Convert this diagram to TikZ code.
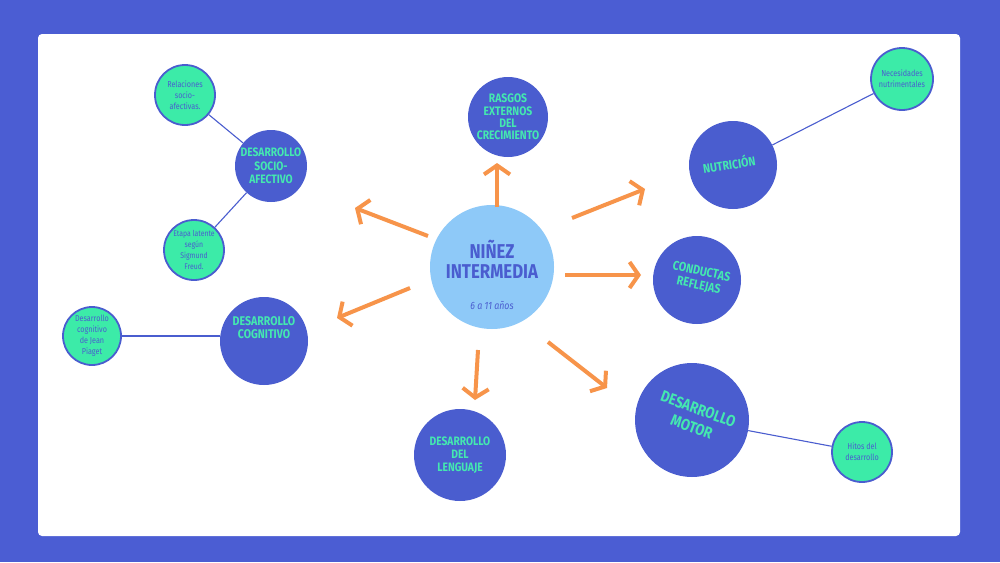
\documentclass[tikz,border=0pt]{standalone}
\usepackage{fontspec}
\setmainfont{Fira Sans}[FakeStretch=0.84]
\usetikzlibrary{arrows.meta}
\definecolor{bg}{HTML}{4B5DD3}
\definecolor{cblue}{HTML}{4A5DCF}
\definecolor{lblue}{HTML}{8EC9F8}
\definecolor{mint}{HTML}{3CEBA8}
\definecolor{ttxt}{HTML}{44E8B0}
\definecolor{orng}{HTML}{F7944A}
\begin{document}
\begin{tikzpicture}[x=1pt,y=-1pt,
  topic/.style={circle,fill=cblue,inner sep=0pt,align=center,text=ttxt,font=\bfseries\fontsize{12.5}{13.5}\selectfont},
  sub/.style={circle,fill=mint,draw=cblue,line width=1.8pt,inner sep=0pt,minimum size=60pt,align=center,text=cblue,font=\fontsize{8.6}{11}\selectfont},
  link/.style={draw=cblue,line width=1.1pt},
  arr/.style={draw=orng,line width=4pt,-{Straight Barb[length=9pt,width=26pt,line width=4pt]}}]
\fill[bg] (0,0) rectangle (1000,562);
\fill[white,rounded corners=4pt] (38,34) rectangle (960,536);
% centre
\node[circle,fill=lblue,minimum size=124pt,inner sep=0pt] (c) at (492,267) {};
\node[text=cblue,font=\bfseries\fontsize{20}{20}\selectfont,align=center] (ct) at (492,259) {NIÑEZ\\INTERMEDIA};
\node[text=cblue,font=\itshape\fontsize{10.5}{12}\selectfont] (cs) at (492,305) {6 a 11 años};
% topics
\node[topic,minimum size=80pt,font=\bfseries\fontsize{12.3}{12.4}\selectfont] (ras) at (508,117) {RASGOS\\EXTERNOS\\DEL\\CRECIMIENTO};
\node[topic,minimum size=88pt] (nut) at (733,165) {};
\node[text=ttxt,font=\bfseries\fontsize{12.6}{13}\selectfont,rotate=9] (nutt) at (729,164) {NUTRICIÓN};
\node[topic,minimum size=88pt] (con) at (697,280) {};
\node[text=ttxt,font=\bfseries\fontsize{12.8}{14}\selectfont,align=center,rotate=-12] (cont) at (700,279) {CONDUCTAS\\REFLEJAS};
\node[topic,minimum size=114pt] (mot) at (692,420) {};
\node[text=ttxt,font=\bfseries\fontsize{15.8}{19}\selectfont,align=center,rotate=-20] (mott) at (695,418) {DESARROLLO\\MOTOR};
\node[topic,minimum size=92pt,font=\bfseries\fontsize{12.2}{13}\selectfont] (len) at (460,455) {DESARROLLO\\DEL\\LENGUAJE};
\node[topic,minimum size=88pt,font=\bfseries\fontsize{12.6}{13.5}\selectfont] (cog) at (264,341) {DESARROLLO\\COGNITIVO\\[13pt]};
\node[topic,minimum size=72pt,font=\bfseries\fontsize{12.2}{13.5}\selectfont] (soc) at (271,166) {DESARROLLO\\SOCIO-\\AFECTIVO};
% sub nodes
\node[sub,minimum size=62pt] (nec) at (902,79) {Necesidades\\nutrimentales};
\node[sub,minimum size=60pt] (hit) at (862,452) {Hitos del\\desarrollo};
\node[sub,minimum size=58pt] (pia) at (92,336) {Desarrollo\\cognitivo\\de Jean\\Piaget};
\node[sub,minimum size=60pt] (rel) at (185,95) {Relaciones\\socio-\\afectivas.};
\node[sub,minimum size=60pt,font=\fontsize{8.2}{11}\selectfont] (eta) at (194,250) {Etapa latente\\según\\Sigmund\\Freud.};
% links
\draw[link] (nut) -- (nec);
\draw[link] (mot) -- (hit);
\draw[link] (pia.east) -- (pia.east -| cog.west);
\draw[link] (soc) -- (rel);
\draw[link] (soc) -- (eta);
% arrows
\coordinate (a1s) at (497,207); \coordinate (a1e) at (497,163);
\coordinate (a2s) at (572,218); \coordinate (a2e) at (645,189);
\coordinate (a3s) at (565,275); \coordinate (a3e) at (641,275);
\coordinate (a4s) at (548,342); \coordinate (a4e) at (607,388);
\coordinate (a5s) at (478,350); \coordinate (a5e) at (475,400);
\coordinate (a6s) at (410,288); \coordinate (a6e) at (337,318);
\coordinate (a7s) at (428,236); \coordinate (a7e) at (355,208);
\foreach \i in {1,...,7} {\draw[arr] (a\i s) -- (a\i e);}
\end{tikzpicture}
\end{document}
